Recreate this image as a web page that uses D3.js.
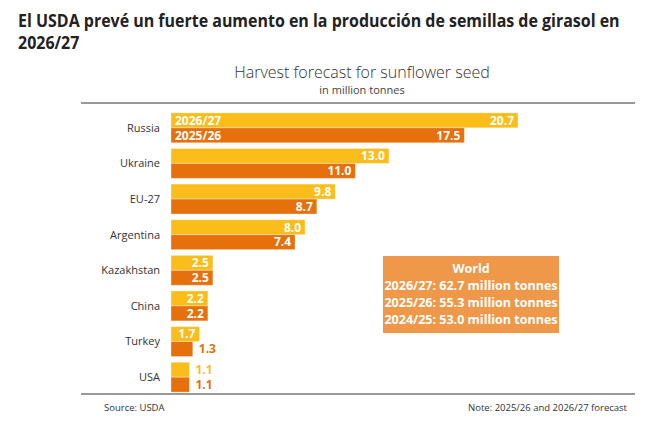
<!DOCTYPE html>
<html>
<head>
<meta charset="utf-8">
<script src="https://cdn.jsdelivr.net/npm/d3@7"></script>
<style>
  body { margin: 0; background: #fff; }
  text { font-family: "Open Sans", sans-serif; }
</style>
</head>
<body>
<svg width="650" height="423"></svg>
<script>
const categories = ["Russia", "Ukraine", "EU-27", "Argentina", "Kazakhstan", "China", "Turkey", "USA"];
const seriesNames = ["2026/27", "2025/26"];
const values2627 = [20.7, 13.0, 9.8, 8.0, 2.5, 2.2, 1.7, 1.1];
const values2526 = [17.5, 11.0, 8.7, 7.4, 2.5, 2.2, 1.3, 1.1];
const worldLines = ["2026/27: 62.7 million tonnes", "2025/26: 55.3 million tonnes", "2024/25: 53.0 million tonnes"];
const titleLines = ["El USDA prevé un fuerte aumento en la producción de semillas de girasol en", "2026/27"];

const colors = { "2026/27": "#fbbd19", "2025/26": "#e5700c" };

const svg = d3.select("svg");

// title, squeezed horizontally like the condensed original
const titleG = svg.append("g").attr("transform", "translate(18,0)");
const title = titleG.append("text")
  .attr("x", 0)
  .attr("y", 27)
  .attr("font-size", 17)
  .attr("font-weight", 700)
  .attr("fill", "#222");
title.selectAll("tspan")
  .data(titleLines)
  .join("tspan")
  .attr("x", 0)
  .attr("dy", (d, i) => i === 0 ? 0 : 22)
  .text(d => d);
const natural = title.node().getBBox().width;
titleG.attr("transform", `translate(18,0) scale(${602 / natural},1)`);

svg.append("text")
  .attr("x", 362)
  .attr("y", 78)
  .attr("text-anchor", "middle")
  .attr("font-size", 16)
  .attr("font-weight", 300)
  .attr("fill", "#333")
  .text("Harvest forecast for sunflower seed");

svg.append("text")
  .attr("x", 362)
  .attr("y", 94)
  .attr("text-anchor", "middle")
  .attr("font-size", 11)
  .attr("fill", "#444")
  .text("in million tonnes");

// rules
svg.append("line")
  .attr("x1", 81).attr("x2", 635)
  .attr("y1", 103).attr("y2", 103)
  .attr("stroke", "#777").attr("stroke-width", 1.5);
svg.append("line")
  .attr("x1", 81).attr("x2", 635)
  .attr("y1", 394).attr("y2", 394)
  .attr("stroke", "#777").attr("stroke-width", 1.5);

// scales
const y = d3.scaleBand()
  .domain(categories)
  .range([110, 395])
  .paddingInner(0.16)
  .paddingOuter(0.08);

const ySub = d3.scaleBand()
  .domain(seriesNames)
  .range([0, y.bandwidth()]);

const x = d3.scaleLinear()
  .domain([0, 20.7])
  .range([171, 518]);

const rows = categories.map((c, i) => ({
  category: c,
  bars: [
    { series: "2026/27", value: values2627[i] },
    { series: "2025/26", value: values2526[i] }
  ]
}));

// category labels
svg.append("g")
  .selectAll("text")
  .data(categories)
  .join("text")
  .attr("x", 160)
  .attr("y", d => y(d) + y.bandwidth() / 2)
  .attr("dy", "0.35em")
  .attr("text-anchor", "end")
  .attr("font-size", 11)
  .attr("fill", "#333")
  .text(d => d);

const groups = svg.append("g")
  .selectAll("g")
  .data(rows)
  .join("g")
  .attr("transform", d => `translate(0,${y(d.category)})`);

groups.selectAll("rect")
  .data(d => d.bars)
  .join("rect")
  .attr("x", x(0))
  .attr("y", d => ySub(d.series))
  .attr("width", d => x(d.value) - x(0))
  .attr("height", ySub.bandwidth())
  .attr("fill", d => colors[d.series])
  .attr("stroke", "#fff")
  .attr("stroke-opacity", 0.35)
  .attr("stroke-width", 1);

// value labels
groups.selectAll("text.val")
  .data(d => d.bars)
  .join("text")
  .attr("class", "val")
  .attr("font-size", 12)
  .attr("font-weight", 700)
  .attr("y", d => ySub(d.series) + ySub.bandwidth() / 2)
  .attr("dy", "0.36em")
  .text(d => d.value.toFixed(1))
  .each(function (d) {
    const w = this.getComputedTextLength();
    const barW = x(d.value) - x(0);
    const t = d3.select(this);
    if (w + 6 < barW) {
      t.attr("x", x(d.value) - 4).attr("text-anchor", "end").attr("fill", "#fff");
    } else {
      t.attr("x", x(d.value) + 6).attr("text-anchor", "start").attr("fill", colors[d.series]);
    }
  });

// series labels in first row
svg.append("g")
  .selectAll("text")
  .data(seriesNames)
  .join("text")
  .attr("x", x(0) + 4)
  .attr("y", d => y(categories[0]) + ySub(d) + ySub.bandwidth() / 2)
  .attr("dy", "0.36em")
  .attr("font-size", 12)
  .attr("font-weight", 700)
  .attr("fill", "#fff")
  .text(d => d);

// world box
const box = svg.append("g").attr("transform", "translate(383,256)");
box.append("rect")
  .attr("width", 176)
  .attr("height", 77)
  .attr("fill", "#f0984a");
box.append("text")
  .attr("x", 88)
  .attr("y", 17)
  .attr("text-anchor", "middle")
  .attr("font-size", 12.5)
  .attr("font-weight", 700)
  .attr("fill", "#fff")
  .text("World");
box.selectAll("text.line")
  .data(worldLines)
  .join("text")
  .attr("class", "line")
  .attr("x", 88)
  .attr("y", (d, i) => 34 + i * 17)
  .attr("text-anchor", "middle")
  .attr("font-size", 12.5)
  .attr("font-weight", 700)
  .attr("fill", "#fff")
  .text(d => d);

// footer
svg.append("text")
  .attr("x", 104)
  .attr("y", 411)
  .attr("font-size", 9.5)
  .attr("fill", "#333")
  .text("Source:  USDA");
svg.append("text")
  .attr("x", 627)
  .attr("y", 411)
  .attr("text-anchor", "end")
  .attr("font-size", 9.5)
  .attr("fill", "#333")
  .text("Note: 2025/26 and 2026/27 forecast");
</script>
</body>
</html>
